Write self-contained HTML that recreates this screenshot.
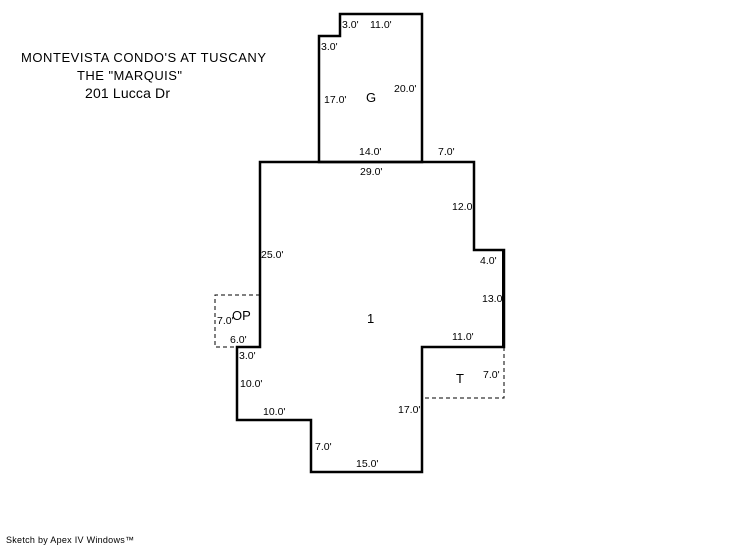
<!DOCTYPE html>
<html><head><style>html,body{margin:0;padding:0;background:#fff}svg{display:block}</style></head>
<body>
<svg width="746" height="547" xmlns="http://www.w3.org/2000/svg" font-family="Liberation Sans, Arial, sans-serif">
<rect width="746" height="547" fill="#fff"/>
<g font-size="13" fill="#000">
<text x="21" y="62" textLength="245">MONTEVISTA CONDO'S AT TUSCANY</text>
<text x="77" y="80" textLength="105">THE "MARQUIS"</text>
<text x="85" y="98" font-size="14" textLength="85">201 Lucca Dr</text>
</g>
<g fill="none" stroke="#000" stroke-width="1" stroke-dasharray="4,3">
<polyline points="260,295 215,295 215,347 237,347"/>
<polyline points="504,347 504,398 422,398"/>
</g>
<g fill="none" stroke="#000" stroke-width="2.5" stroke-linejoin="miter">
<polygon points="340,14 422,14 422,162 319,162 319,36 340,36"/>
<polygon points="260,162 474,162 474,250 504,250 504,347 422,347 422,472 311,472 311,420 237,420 237,347 260,347"/>
</g>
<line x1="503" y1="250" x2="503" y2="347" stroke="#000" stroke-width="2"/>
<g font-size="10.5" fill="#000">
<text x="342" y="28">3.0'</text>
<text x="370" y="28">11.0'</text>
<text x="321" y="50">3.0'</text>
<text x="324" y="103">17.0'</text>
<text x="394" y="92">20.0'</text>
<text x="359" y="155">14.0'</text>
<text x="438" y="155">7.0'</text>
<text x="360" y="175">29.0'</text>
<text x="452" y="210">12.0</text>
<text x="261" y="258">25.0'</text>
<text x="480" y="264">4.0'</text>
<text x="482" y="302">13.0</text>
<text x="217" y="324">7.0'</text>
<text x="230" y="343">6.0'</text>
<text x="452" y="340">11.0'</text>
<text x="239" y="359">3.0'</text>
<text x="240" y="387">10.0'</text>
<text x="483" y="378">7.0'</text>
<text x="398" y="413">17.0'</text>
<text x="263" y="415">10.0'</text>
<text x="315" y="450">7.0'</text>
<text x="356" y="467">15.0'</text>
</g>
<g font-size="13" fill="#000">
<text x="366" y="102">G</text>
<text x="232" y="320">OP</text>
<text x="367" y="323">1</text>
<text x="456" y="383">T</text>
</g>
<text x="6" y="543" font-size="9" fill="#000" textLength="128">Sketch by Apex IV Windows™</text>
</svg>
</body></html>
